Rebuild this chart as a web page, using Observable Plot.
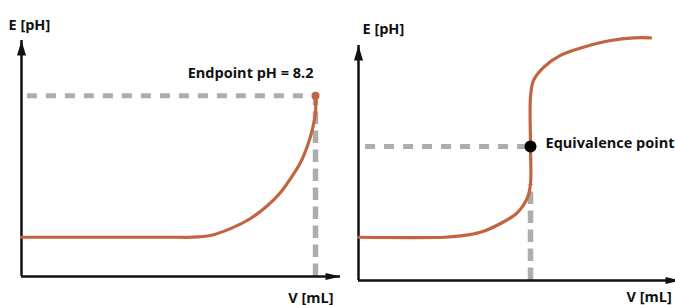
<!DOCTYPE html>
<html><head><meta charset="utf-8">
<script src="https://cdn.jsdelivr.net/npm/d3@7"></script>
<script src="https://cdn.jsdelivr.net/npm/@observablehq/plot@0.6"></script>
<style>
html,body{margin:0;padding:0;background:#fff;}
#wrap{position:relative;width:675px;height:305px;overflow:hidden;background:#fff;}
</style></head><body><div id="wrap"></div>
<script>
// ---- Left panel: endpoint titration (V in mL, E in pH) ----
const leftV = [0, 5.4, 5.75, 6.43, 7.11, 7.79, 8.37, 8.81, 9.15, 9.49, 9.73, 9.90, 10.0, 10.0];
const leftE = [1.78, 1.78, 1.78, 1.86, 2.17, 2.63, 3.22, 3.81, 4.44, 5.17, 5.94, 6.71, 7.43, 8.2];
const endpointV = 10;
const endpointE = 8.2;
const leftXMax = 10.85, leftYMax = 10.7;
const leftYLabel = "E [pH]", leftXLabel = "V [mL]", endpointLabel = "Endpoint pH = 8.2";

// ---- Right panel: equivalence point titration ----
const rightV = [0, 5.0, 5.93, 7.09, 8.26, 9.24, 9.83, 10, 10, 10, 10.17, 10.76, 11.74, 13.08, 14.65, 15.99, 16.98];
const rightE = [2.26, 2.26, 2.33, 2.52, 2.98, 3.55, 4.34, 5.07, 7, 9.58, 10.45, 11.14, 11.76, 12.19, 12.54, 12.68, 12.68];
const eqV = 10;
const eqE = 7;
const rightXMax = 18.72, rightYMax = 12.28;
const rightYLabel = "E [pH]", rightXLabel = "V [mL]", eqLabel = "Equivalence point";

const curveColor = "#c1643f";
const dashColor = "#adadad";
const font = {fontFamily: "'Open Sans', sans-serif", fontSize: 14.5, fontWeight: "bold", fill: "#111"};

const headX = {draw(ctx){ctx.moveTo(0,0);ctx.lineTo(-15,-3.5);ctx.lineTo(-15,3.5);ctx.closePath();}};
const headY = {draw(ctx){ctx.moveTo(0,0);ctx.lineTo(-4.5,15);ctx.lineTo(4.5,15);ctx.closePath();}};

function toRows(V, E){ return V.map((v,i)=>({V:v, E:E[i]})); }

function axesMarks(xMax, yMax){
  return [
    Plot.ruleY([0], {x1: 0, x2: xMax, stroke: "#111", strokeWidth: 2.5}),
    Plot.ruleX([0], {y1: 0, y2: yMax, stroke: "#111", strokeWidth: 2.5}),
    Plot.dot([0], {x: () => xMax, y: () => 0, symbol: headX, fill: "#111", stroke: "none"}),
    Plot.dot([0], {x: () => 0, y: () => yMax, symbol: headY, fill: "#111", stroke: "none"})
  ];
}

const left = Plot.plot({
  width: 345, height: 305,
  marginLeft: 21, marginRight: 5, marginTop: 40, marginBottom: 29,
  x: {domain: [0, leftXMax], axis: null},
  y: {domain: [0, leftYMax], axis: null},
  style: {position: "absolute", left: "0px", top: "0px", overflow: "visible", background: "transparent"},
  marks: [
    Plot.ruleY([endpointE], {x1: 0.2, x2: endpointV, stroke: dashColor, strokeWidth: 5, strokeDasharray: "10,9"}),
    Plot.ruleX([endpointV], {y1: 0, y2: endpointE, stroke: dashColor, strokeWidth: 5.5, strokeDasharray: "12.5,6.5"}),
    ...axesMarks(leftXMax, leftYMax),
    Plot.line(toRows(leftV, leftE), {x: "V", y: "E", stroke: curveColor, strokeWidth: 3.2, curve: "catmull-rom"}),
    Plot.dot([0], {x: () => endpointV, y: () => endpointE, r: 4, fill: curveColor, stroke: "none"}),
    Plot.text([endpointLabel], {x: () => endpointV, y: () => endpointE, text: d => d, textAnchor: "end", lineAnchor: "bottom", dx: -2, dy: -18, ...font}),
    Plot.text([leftYLabel], {x: () => 0, y: () => leftYMax, text: d => d, textAnchor: "start", lineAnchor: "bottom", dx: -13, dy: -11, ...font}),
    Plot.text([leftXLabel], {x: () => leftXMax, y: () => 0, text: d => d, textAnchor: "end", lineAnchor: "bottom", dx: -7, dy: 26, ...font})
  ]
});

const right = Plot.plot({
  width: 350, height: 305,
  marginLeft: 23, marginRight: 5, marginTop: 45, marginBottom: 25,
  x: {domain: [0, rightXMax], axis: null},
  y: {domain: [0, rightYMax], axis: null},
  style: {position: "absolute", left: "335px", top: "0px", overflow: "visible", background: "transparent"},
  marks: [
    Plot.ruleY([eqE], {x1: 0.41, x2: eqV, stroke: dashColor, strokeWidth: 5, strokeDasharray: "10,9"}),
    Plot.ruleX([eqV], {y1: 0, y2: 5, stroke: dashColor, strokeWidth: 5.5, strokeDasharray: "12.5,6.5"}),
    ...axesMarks(rightXMax, rightYMax),
    Plot.line(toRows(rightV, rightE), {x: "V", y: "E", stroke: curveColor, strokeWidth: 3.2, curve: "catmull-rom"}),
    Plot.dot([0], {x: () => eqV, y: () => eqE, r: 6, fill: "#000", stroke: "none"}),
    Plot.text([eqLabel], {x: () => eqV, y: () => eqE, text: d => d, textAnchor: "start", lineAnchor: "middle", dx: 15, dy: -3, ...font}),
    Plot.text([rightYLabel], {x: () => 0, y: () => rightYMax, text: d => d, textAnchor: "start", lineAnchor: "bottom", dx: 4, dy: -12, ...font}),
    Plot.text([rightXLabel], {x: () => rightXMax, y: () => 0, text: d => d, textAnchor: "start", lineAnchor: "bottom", dx: -54, dy: 21, ...font})
  ]
});

const wrap = document.getElementById("wrap");
wrap.appendChild(left);
wrap.appendChild(right);
</script>
</body></html>
